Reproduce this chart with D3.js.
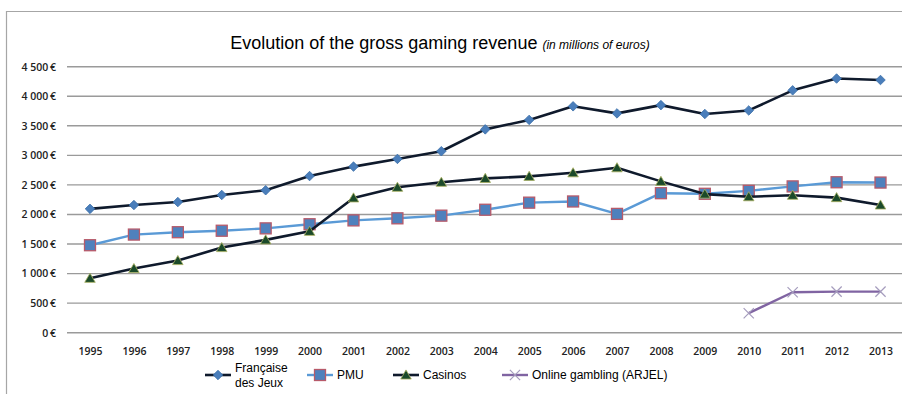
<!DOCTYPE html>
<html>
<head>
<meta charset="utf-8">
<script src="https://cdn.jsdelivr.net/npm/d3@7"></script>
<style>
  body { margin: 0; background: #fff; }
  svg { display: block; }
</style>
</head>
<body>
<svg id="chart"></svg>
<script>
const years = ["1995","1996","1997","1998","1999","2000","2001","2002","2003","2004","2005","2006","2007","2008","2009","2010","2011","2012","2013"];
const fdj = [2095, 2160, 2210, 2330, 2410, 2650, 2810, 2940, 3070, 3440, 3600, 3830, 3710, 3850, 3700, 3760, 4100, 4300, 4275];
const pmu = [1480, 1660, 1700, 1725, 1765, 1835, 1900, 1935, 1980, 2080, 2200, 2220, 2010, 2360, 2350, 2400, 2475, 2545, 2540];
const casinos = [920, 1085, 1220, 1440, 1570, 1715, 2280, 2460, 2545, 2610, 2645, 2705, 2790, 2560, 2345, 2300, 2325, 2285, 2160];
const onlineYears = ["2010", "2011", "2012", "2013"];
const online = [330, 685, 695, 695];
const yTicks = [0, 500, 1000, 1500, 2000, 2500, 3000, 3500, 4000, 4500];

const width = 902, height = 394;
const svg = d3.select("#chart").attr("width", width).attr("height", height);

// frame
svg.append("path")
    .attr("d", "M6.5," + height + " V11.5 H" + width)
    .attr("fill", "none")
    .attr("stroke", "#a6a6a6")
    .attr("stroke-width", 1.2);

const x = d3.scalePoint().domain(years).range([90, 880.5]);
const y = d3.scaleLinear().domain([0, 4500]).range([332.7, 66.7]);

// gridlines
svg.append("g")
    .selectAll("line")
    .data(yTicks)
    .enter()
    .append("line")
    .attr("x1", 67)
    .attr("x2", width)
    .attr("y1", d => y(d))
    .attr("y2", d => y(d))
    .attr("stroke", "#9a9a9a")
    .attr("stroke-width", 1.4);

const fmt = d => (d >= 1000 ? Math.floor(d / 1000) + " " + String(d % 1000).padStart(3, "0") : d) + "\u2009€";

const yAxis = svg.append("g")
    .attr("transform", "translate(56,0)")
    .call(d3.axisLeft(y).tickValues(yTicks).tickSize(0).tickFormat(fmt));
yAxis.select(".domain").remove();
yAxis.selectAll("text")
    .attr("x", 0)
    .attr("font-family", "'Open Sans', sans-serif")
    .attr("font-size", 10.5)
    .attr("font-weight", 600)
    .attr("fill", "#222");

const xAxis = svg.append("g")
    .attr("transform", "translate(0,345)")
    .call(d3.axisBottom(x).tickSize(0));
xAxis.select(".domain").remove();
xAxis.selectAll("text")
    .attr("font-family", "'Open Sans', sans-serif")
    .attr("font-size", 10.5)
    .attr("font-weight", 600)
    .attr("fill", "#222");

// title
const title = svg.append("text")
    .attr("x", 440)
    .attr("y", 49)
    .attr("text-anchor", "middle")
    .attr("font-family", "'Liberation Sans', Arial, sans-serif")
    .attr("fill", "#000");
title.append("tspan").attr("font-size", 18).text("Evolution of the gross gaming revenue ");
title.append("tspan").attr("font-size", 12).attr("font-style", "italic").text("(in millions of euros)");

const line = d3.line().x(d => x(d[0])).y(d => y(d[1]));

const series = [
    { name: "fdj", keys: years, values: fdj, color: "#0f1a2c", width: 2.6, marker: "diamond" },
    { name: "pmu", keys: years, values: pmu, color: "#5a9ad6", width: 2.4, marker: "square" },
    { name: "casinos", keys: years, values: casinos, color: "#0f1a2c", width: 2.6, marker: "triangle" },
    { name: "online", keys: onlineYears, values: online, color: "#8064a2", width: 2.4, marker: "cross" }
];

function drawMarker(g, type, cx, cy) {
    if (type === "diamond") {
        g.append("path")
            .attr("d", d3.symbol(d3.symbolDiamond2, 58)())
            .attr("transform", "translate(" + cx + "," + cy + ")")
            .attr("fill", "#4a7ebb")
            .attr("stroke", "#3a6ea8")
            .attr("stroke-width", 0.8);
    } else if (type === "square") {
        g.append("rect")
            .attr("x", cx - 5.5).attr("y", cy - 5.5)
            .attr("width", 11).attr("height", 11)
            .attr("fill", "#4f81bd")
            .attr("stroke", "#b75a6a")
            .attr("stroke-width", 1.3);
    } else if (type === "triangle") {
        g.append("path")
            .attr("d", d3.symbol(d3.symbolTriangle, 48)())
            .attr("transform", "translate(" + cx + "," + (cy + 1) + ")")
            .attr("fill", "#1b4a2a")
            .attr("stroke", "#a8b060")
            .attr("stroke-width", 0.8);
    } else {
        g.append("path")
            .attr("d", d3.symbol(d3.symbolX, 70)())
            .attr("transform", "translate(" + cx + "," + cy + ")")
            .attr("fill", "none")
            .attr("stroke", "#a59cbd")
            .attr("stroke-width", 1.2);
    }
}

series.forEach(function (s) {
    const pts = s.keys.map((k, i) => [k, s.values[i]]);
    const g = svg.append("g").attr("class", s.name);
    g.append("path")
        .datum(pts)
        .attr("d", line)
        .attr("fill", "none")
        .attr("stroke", s.color)
        .attr("stroke-width", s.width)
        .attr("stroke-linejoin", "round");
    pts.forEach(p => drawMarker(g, s.marker, x(p[0]), y(p[1])));
});

// legend
const legendItems = [
    { label: ["Française", "des Jeux"], x: 205, s: series[0] },
    { label: ["PMU"], x: 307, s: series[1] },
    { label: ["Casinos"], x: 393, s: series[2] },
    { label: ["Online gambling (ARJEL)"], x: 502, s: series[3] }
];
const legend = svg.append("g").attr("class", "legend");
legendItems.forEach(function (it) {
    const ly = 375;
    legend.append("line")
        .attr("x1", it.x).attr("x2", it.x + 26)
        .attr("y1", ly).attr("y2", ly)
        .attr("stroke", it.s.color)
        .attr("stroke-width", it.s.width);
    drawMarker(legend, it.s.marker, it.x + 13, ly);
    const t = legend.append("text")
        .attr("x", it.x + 30)
        .attr("font-family", "'Liberation Sans', Arial, sans-serif")
        .attr("font-size", 12)
        .attr("fill", "#000");
    if (it.label.length === 2) {
        t.append("tspan").attr("x", it.x + 30).attr("y", 372).text(it.label[0]);
        t.append("tspan").attr("x", it.x + 30).attr("y", 387).text(it.label[1]);
    } else {
        t.attr("y", 379).text(it.label[0]);
    }
});
</script>
</body>
</html>
